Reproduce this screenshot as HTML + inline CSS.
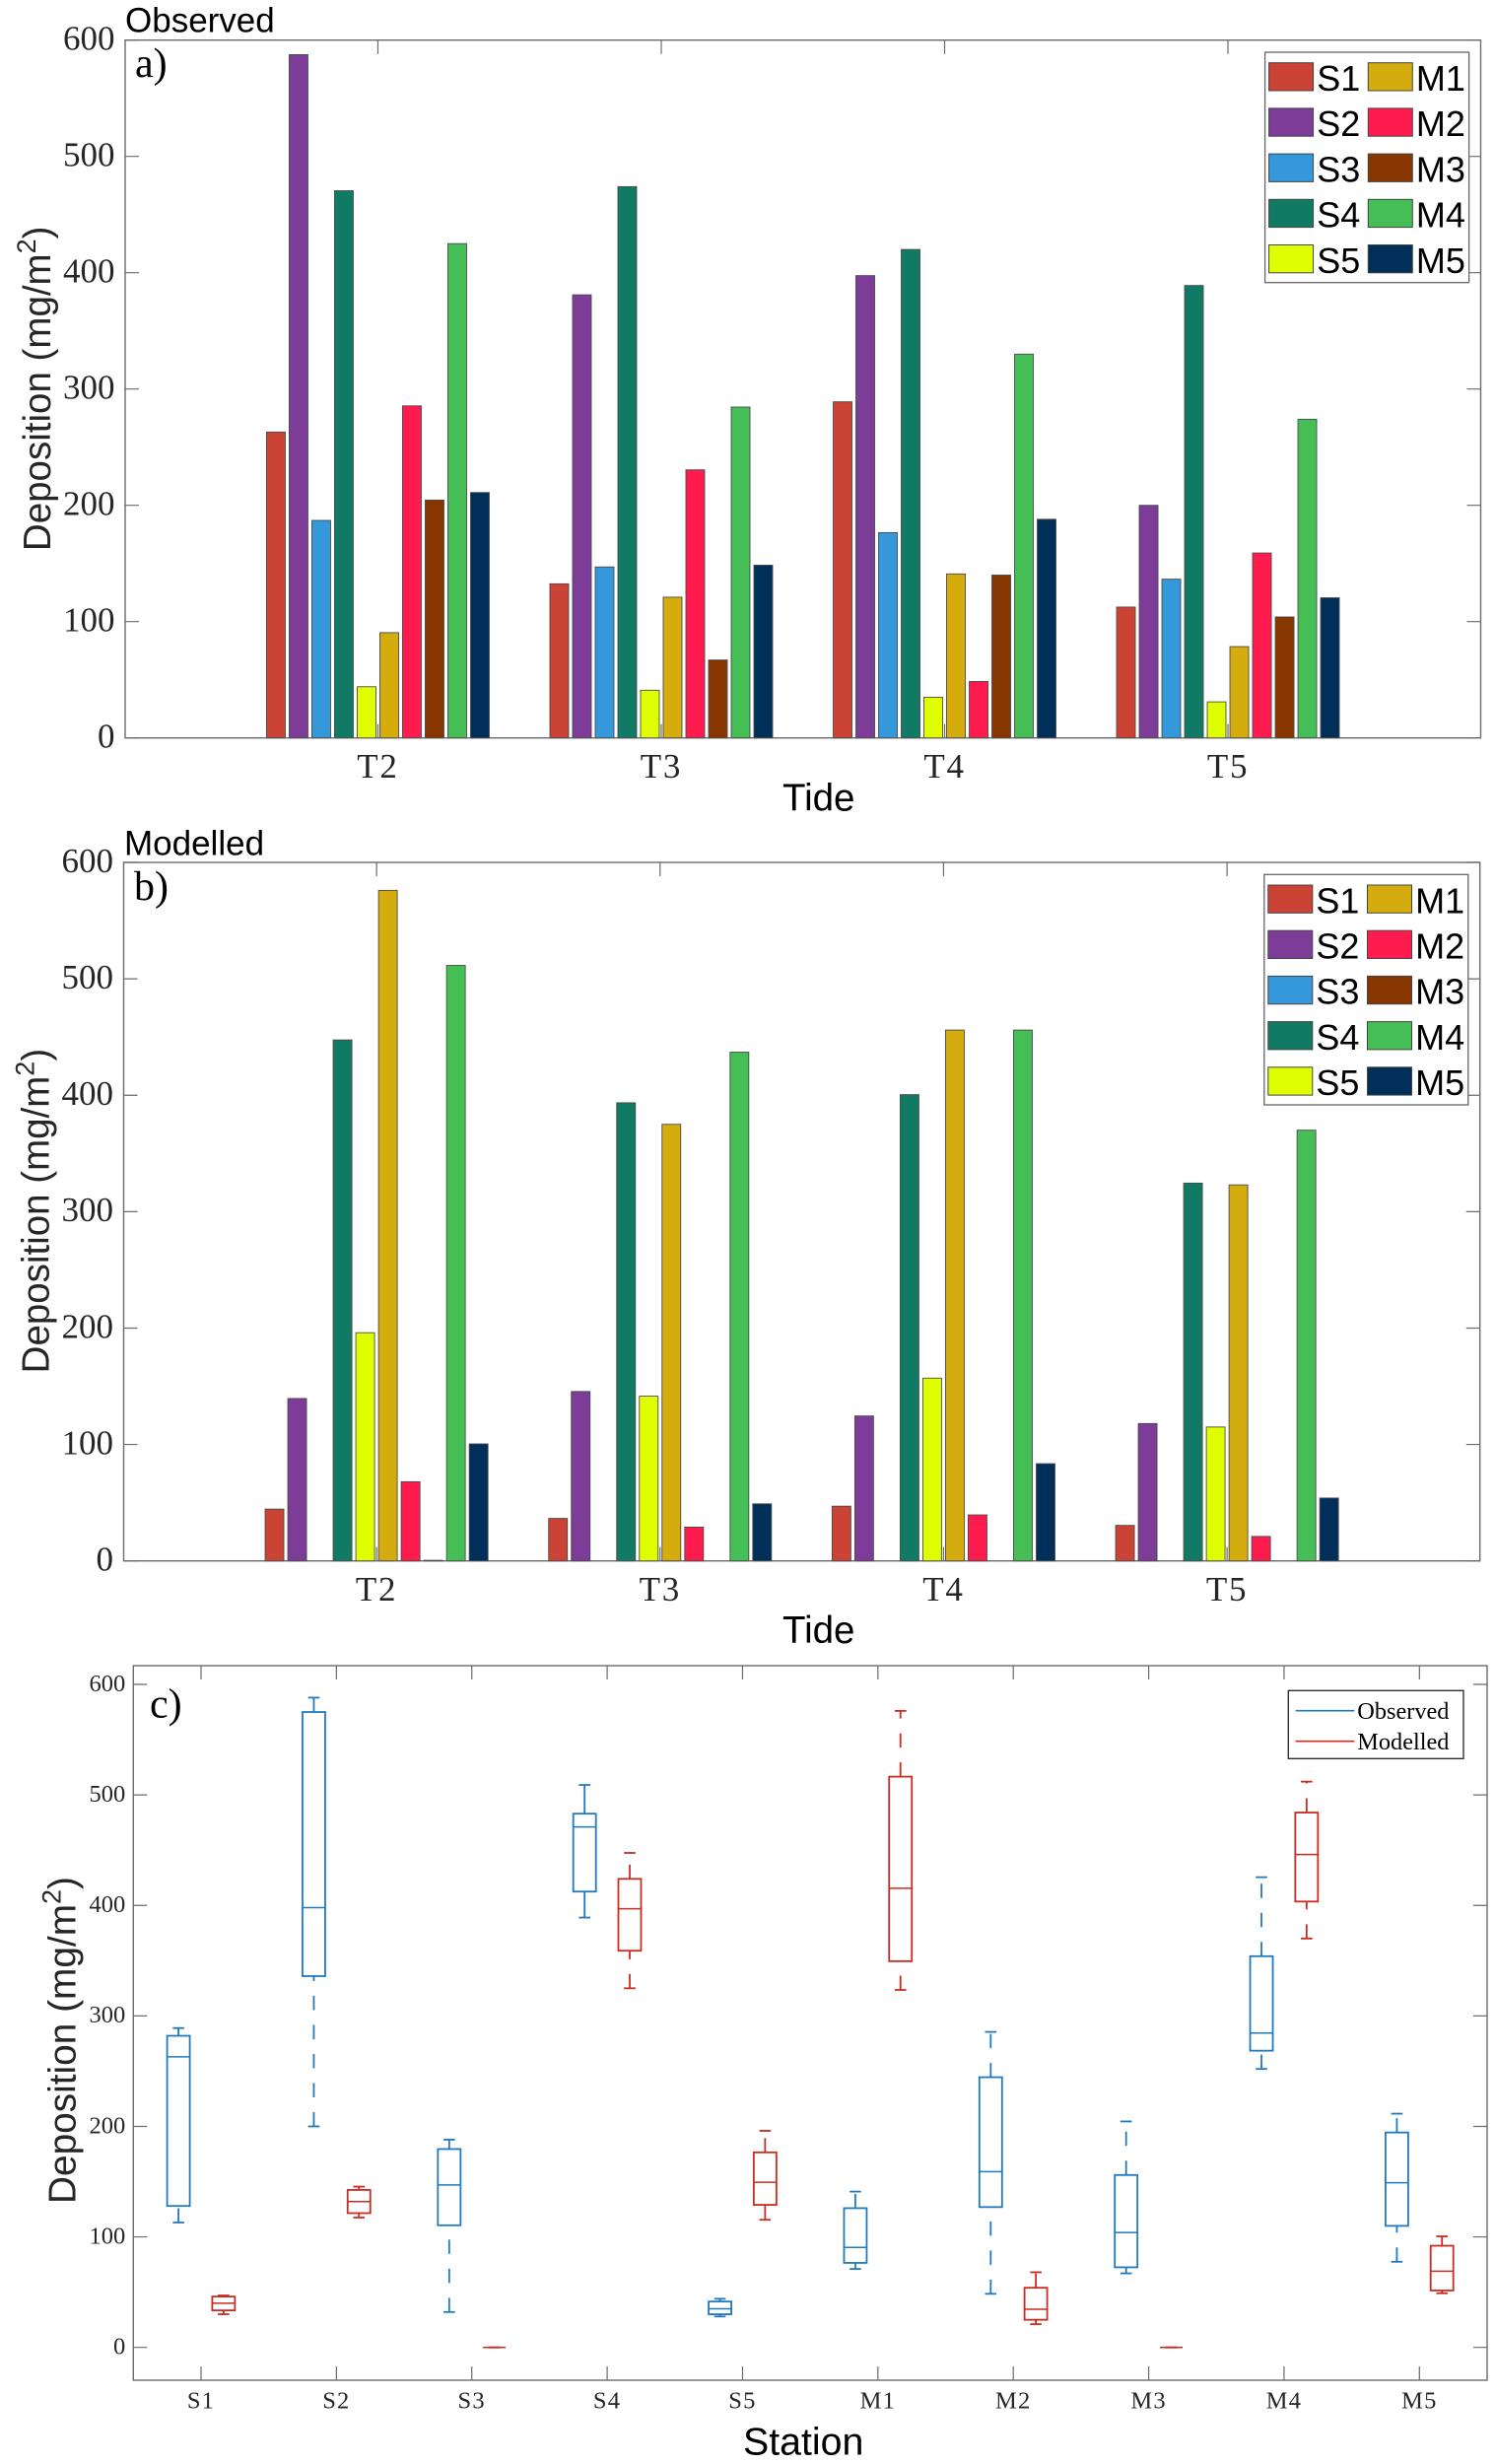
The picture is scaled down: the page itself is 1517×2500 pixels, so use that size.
<!DOCTYPE html>
<html lang="en">
<head>
<meta charset="utf-8">
<title>Deposition: observed and modelled</title>
<style>
html,body{margin:0;padding:0;background:#fff;}
svg{display:block;}
.sans{font-family:"Liberation Sans",sans-serif;}
.serif{font-family:"Liberation Serif",serif;}
</style>
</head>
<body>
<svg id="figure" xmlns="http://www.w3.org/2000/svg" width="1517" height="2500" viewBox="0 0 1517 2500">
  <rect x="0" y="0" width="1517" height="2500" fill="#fff"/>

  <g id="panel-a"></g>
  <g id="panel-b"></g>
  <g id="panel-c"></g>

  <text class="sans" x="127" y="32.7" font-size="35" fill="#000">Observed</text>
  <text class="serif" x="137" y="78" font-size="42" fill="#000">a)</text>
  <text class="sans" font-size="38.5" fill="#262626" text-anchor="middle" transform="translate(51,394.3) rotate(-90)">Deposition (mg/m<tspan dy="-15" font-size="27">2</tspan><tspan dy="15">)</tspan></text>
  <text class="sans" x="794" y="822.3" font-size="38.5" fill="#000">Tide</text>

  <text class="sans" x="126" y="867.5" font-size="35" fill="#000">Modelled</text>
  <text class="serif" x="136" y="913" font-size="42" fill="#000">b)</text>
  <text class="sans" font-size="38.5" fill="#262626" text-anchor="middle" transform="translate(49.5,1228.6) rotate(-90)">Deposition (mg/m<tspan dy="-15" font-size="27">2</tspan><tspan dy="15">)</tspan></text>
  <text class="sans" x="794" y="1667" font-size="38.5" fill="#000">Tide</text>

  <text class="serif" x="152" y="1742.5" font-size="42" fill="#000">c)</text>
  <text class="sans" font-size="38.8" fill="#262626" text-anchor="middle" transform="translate(76.5,2070) rotate(-90)">Deposition (mg/m<tspan dy="-15" font-size="27">2</tspan><tspan dy="15">)</tspan></text>
  <text class="sans" x="754" y="2490.4" font-size="39.3" fill="#000">Station</text>
</svg>

<script>
// ---- Chart data ----
var tides = ['T2', 'T3', 'T4', 'T5'];
var tideTicks = [2, 3, 4, 5];
var stations = ['S1', 'S2', 'S3', 'S4', 'S5', 'M1', 'M2', 'M3', 'M4', 'M5'];
var stationColors = ['#CB4335', '#7D3C98', '#3498DB', '#117A65', '#DFFF00', '#D4AC0D', '#FF1B4D', '#873600', '#45BF55', '#00305A'];
var barYTicks = [0, 100, 200, 300, 400, 500, 600];
var boxYTicks = [0, 100, 200, 300, 400, 500, 600];

// bar heights per tide, in station order
var observedT2 = [263, 587.5, 187, 470.5, 44, 90.5, 285.5, 204.5, 425, 211];
var observedT3 = [132.5, 381, 147, 474, 41, 121, 230.5, 67, 284.5, 148.5];
var observedT4 = [289, 397.5, 176.5, 420, 35, 141, 48.5, 140, 330, 188];
var observedT5 = [112.5, 200, 136.5, 389, 31, 78.5, 159, 104, 274, 120.5];

var modelledT2 = [44.5, 139.5, 0, 447.5, 196, 576, 68, 0.5, 511.5, 100.5];
var modelledT3 = [36.5, 145.5, 0, 393.5, 141.5, 375, 29, 0, 437, 49];
var modelledT4 = [47, 124.5, 0, 400.5, 157, 456, 39.5, 0, 456, 83.5];
var modelledT5 = [30.5, 118, 0, 324.5, 115, 323, 21, 0, 370, 54];

// box statistics per station
var obsHigh   = [289, 588, 188, 509, 44, 141, 285.5, 204.5, 425.5, 211.5];
var obsUpper  = [282, 575, 179.5, 483, 41.5, 126, 244.5, 156, 354, 194.5];
var obsMedian = [263, 398, 147, 471, 35, 90.5, 159, 104, 284.5, 149];
var obsLower  = [128, 336, 110.5, 412.5, 30, 76.5, 127, 72.5, 268.5, 110];
var obsLow    = [113, 200, 32, 389, 28, 71, 48.5, 67, 252, 77.5];

var modHigh   = [47, 145.5, 0, 447.5, 196, 576, 68, 0, 512, 100.5];
var modUpper  = [46, 142.5, 0, 424, 176.5, 516.5, 54, 0, 484, 92];
var modMedian = [40, 132, 0, 397, 149.5, 415.5, 34.5, 0, 446, 69];
var modLower  = [33.5, 121.5, 0, 359, 129, 349.5, 25, 0, 403.5, 51.5];
var modLow    = [30, 117.5, 0, 325, 115.5, 323.5, 21, 0, 370, 49];

var solidObservedWhiskers = ['S4'];

// ---- Drawing ----
var NS = 'http://www.w3.org/2000/svg';
var AXIS_COLOR = '#6b6b6b';
var TEXT_COLOR = '#262626';
var SERIF = '"Liberation Serif", serif';
var SANS = '"Liberation Sans", sans-serif';
var BLUE = '#1F7ABF';
var RED = '#CC2B20';

function make(tag, parent, attrs) {
  var node = document.createElementNS(NS, tag);
  for (var key in attrs) { node.setAttribute(key, attrs[key]); }
  parent.appendChild(node);
  return node;
}

function linearScale(d0, d1, r0, r1) {
  return function (v) { return r0 + (v - d0) * (r1 - r0) / (d1 - d0); };
}

function drawFrame(g, box, xTicks, xLabels, yTicks, xScale, yScale, tickLen, fontSize, xLabelBaseline, yLabelGap) {
  var i, t, y, x;
  var axes = make('g', g, {});
  
  

  var frame = make('rect', axes, { x: box.left, y: box.top, width: box.right - box.left, height: box.bottom - box.top, fill: 'none', stroke: AXIS_COLOR, 'stroke-width': 1.4 });
  
  

  for (i = 0; i < yTicks.length; i++) {
    y = yScale(yTicks[i]);
    t = make('path', axes, { d: 'M' + box.left + ' ' + y + 'h' + tickLen + 'M' + box.right + ' ' + y + 'h' + (-tickLen), stroke: AXIS_COLOR, 'stroke-width': 1.2, fill: 'none' });
    
    
    t = make('text', axes, { x: box.left - yLabelGap, y: y + fontSize * 0.28, 'text-anchor': 'end', 'font-size': fontSize, 'font-family': SERIF, fill: TEXT_COLOR });
    t.textContent = String(yTicks[i]);
    
    
  }
  for (i = 0; i < xTicks.length; i++) {
    x = xScale(xTicks[i]);
    t = make('path', axes, { d: 'M' + x + ' ' + box.top + 'v' + tickLen + 'M' + x + ' ' + box.bottom + 'v' + (-tickLen), stroke: AXIS_COLOR, 'stroke-width': 1.2, fill: 'none' });
    
    
    t = make('text', axes, { x: x, y: xLabelBaseline, 'text-anchor': 'middle', 'font-size': fontSize, 'font-family': SERIF, fill: TEXT_COLOR, 'letter-spacing': fontSize * 0.05 });
    t.textContent = xLabels[i];
    
    
  }
}

function drawBarLegend(g, left, top) {
  var rowH = 46.2;
  var colW = 100.7;
  var bg = make('rect', g, { x: left, y: top, width: 207, height: 233.7, fill: '#fff', stroke: '#666', 'stroke-width': 1.3 });
  
  
  for (var i = 0; i < stations.length; i++) {
    var col = Math.floor(i / 5);
    var row = i % 5;
    var sx = left + 4 + col * colW;
    var sy = top + 10.7 + row * rowH;
    var entry = make('g', g, {});
    
    
    var sw = make('rect', entry, { x: sx, y: sy, width: 45, height: 28.3, fill: stationColors[i], stroke: '#444', 'stroke-width': 1 });
    
    
    var lab = make('text', entry, { x: sx + 48.6, y: sy + 28.3, 'font-size': 36, 'font-family': SANS, fill: '#000' });
    lab.textContent = stations[i];
    
    
  }
}

function drawBarPanel(id, box, seriesByTide) {
  var g = document.getElementById(id);
  var xScale = linearScale(1.108, 5.892, box.left, box.right);
  var yScale = linearScale(0, 600, box.bottom, box.top);
  var BAR_STEP = 0.08;
  var BAR_WIDTH = 0.066;
  drawFrame(g, box, tideTicks, tides, barYTicks, xScale, yScale, 14, 35, box.bottom + 40.5, 10.5);
  for (var t = 0; t < tideTicks.length; t++) {
    var values = seriesByTide[t];
    for (var s = 0; s < stations.length; s++) {
      var v = values[s];
      if (!(v > 0)) { continue; }
      var x0 = xScale(tideTicks[t] + (s - 4.5) * BAR_STEP - BAR_WIDTH / 2);
      var x1 = xScale(tideTicks[t] + (s - 4.5) * BAR_STEP + BAR_WIDTH / 2);
      var bar = make('rect', g, { x: x0, y: yScale(v), width: x1 - x0, height: box.bottom - yScale(v), fill: stationColors[s], stroke: '#4a4a4a', 'stroke-width': 0.9 });
      
      
    }
  }
  drawBarLegend(g, box.right - 218.9, box.top + 12.3);
}

function drawBox(g, x, yScale, color, high, upper, median, lower, low, solid, name) {
  var HALF_BOX = 11.5;
  var HALF_CAP = 5.8;
  var group = make('g', g, { fill: 'none', stroke: color, 'stroke-width': 1.8 });
  
  
  var dash = solid ? 'none' : '14.5 15';

  var wLow = make('line', group, { x1: x, x2: x, y1: yScale(low), y2: yScale(lower), 'stroke-dasharray': dash });
  
  
  var wHigh = make('line', group, { x1: x, x2: x, y1: yScale(upper), y2: yScale(high), 'stroke-dasharray': dash });
  
  

  var capLow = make('line', group, { x1: x - HALF_CAP, x2: x + HALF_CAP, y1: yScale(low), y2: yScale(low) });
  
  
  var capHigh = make('line', group, { x1: x - HALF_CAP, x2: x + HALF_CAP, y1: yScale(high), y2: yScale(high) });
  
  

  var rect = make('rect', group, { x: x - HALF_BOX, y: yScale(upper), width: HALF_BOX * 2, height: yScale(lower) - yScale(upper), fill: '#fff' });
  
  
  var med = make('line', group, { x1: x - HALF_BOX, x2: x + HALF_BOX, y1: yScale(median), y2: yScale(median), 'stroke-width': 1.5 });
  
  
}

function drawBoxPanel(id, box) {
  var g = document.getElementById(id);
  var positions = stations.map(function (_, i) { return i + 1; });
  var xScale = linearScale(0.5, 10.5, box.left, box.right);
  var yScale = linearScale(0, 600, 2381.7, 1709);
  var OFFSET = 1 / 6;
  drawFrame(g, box, positions, stations, boxYTicks, xScale, yScale, 14, 24.5, 2443.3, 8);
  for (var i = 0; i < stations.length; i++) {
    var solid = solidObservedWhiskers.indexOf(stations[i]) >= 0;
    drawBox(g, xScale(positions[i] - OFFSET), yScale, BLUE, obsHigh[i], obsUpper[i], obsMedian[i], obsLower[i], obsLow[i], solid, 'observed-box-' + stations[i].toLowerCase());
    drawBox(g, xScale(positions[i] + OFFSET), yScale, RED, modHigh[i], modUpper[i], modMedian[i], modLower[i], modLow[i], false, 'modelled-box-' + stations[i].toLowerCase());
  }

  var legend = make('g', g, {});
  
  
  var frame = make('rect', legend, { x: 1307.3, y: 1715.3, width: 177.7, height: 69, fill: '#fff', stroke: '#222', 'stroke-width': 1.3 });
  
  
  var legendNames = ['Observed', 'Modelled'];
  var legendColors = [BLUE, RED];
  for (var k = 0; k < legendNames.length; k++) {
    var ly = 1735.7 + k * 31;
    var ln = make('line', legend, { x1: 1314.7, x2: 1374.3, y1: ly, y2: ly, stroke: legendColors[k], 'stroke-width': 1.6 });
    
    
    var tx = make('text', legend, { x: 1377.3, y: ly + 8.3, 'font-size': 24.3, 'font-family': SERIF, fill: '#000' });
    tx.textContent = legendNames[k];
    
    
  }
}

drawBarPanel('panel-a', { left: 127, right: 1502.5, top: 40.7, bottom: 748.7 }, [observedT2, observedT3, observedT4, observedT5]);
drawBarPanel('panel-b', { left: 125.5, right: 1501.7, top: 875, bottom: 1583.7 }, [modelledT2, modelledT3, modelledT4, modelledT5]);
drawBoxPanel('panel-c', { left: 135.3, right: 1509, top: 1690, bottom: 2415 });
</script>
</body>
</html>
